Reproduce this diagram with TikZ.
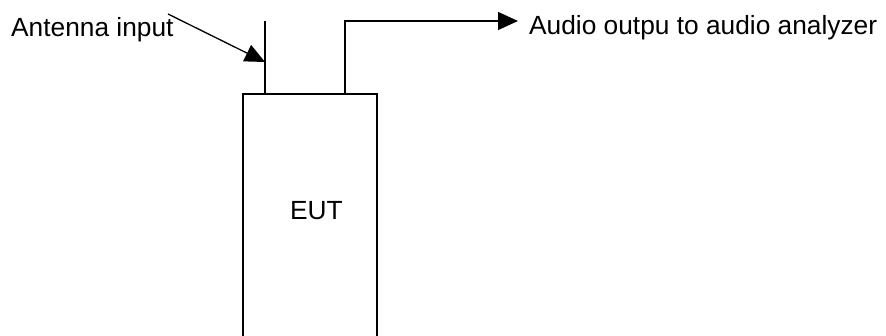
\documentclass[tikz,border=0pt]{standalone}
\usepackage{fontspec}
\setmainfont{Liberation Sans}
\usetikzlibrary{arrows.meta}
\begin{document}
\begin{tikzpicture}[x=1pt,y=-1pt,
  wire/.style={line width=1.3pt, line cap=butt},
  arr/.style={wire, -{Triangle[length=20pt,width=18pt]}},
  txt/.style={font=\fontsize{26.3}{31}\selectfont, inner sep=0pt},
  lbl/.style={txt, anchor=base west}]
\useasboundingbox (0,0) rectangle (886,336);
\fill[white] (0,0) rectangle (886,336);
% EUT box (extends beyond bottom edge)
\coordinate (boxbl) at (243,340);
\coordinate (boxtr) at (377,94);
\draw[wire] (boxbl) -- (243,94) -- (boxtr) -- (377,340);
\node[txt, anchor=base] (eut) at (316.5,220) {EUT};
% antenna
\coordinate (antbot) at (265,94);
\coordinate (anttop) at (265,21);
\draw[wire] (antbot) -- (anttop);
\node[lbl] (antlbl) at (11,37) {Antenna input};
\coordinate (antstart) at (168,14);
\coordinate (anttip) at (265,62);
\draw[arr] (antstart) -- (anttip);
% audio output
\coordinate (outbot) at (345,94);
\node[lbl] (outlbl) at (529,35) {Audio outpu to audio analyzer};
\coordinate (outtip) at (518,21);
\draw[arr] (outbot) |- (outtip);
\end{tikzpicture}
\end{document}
